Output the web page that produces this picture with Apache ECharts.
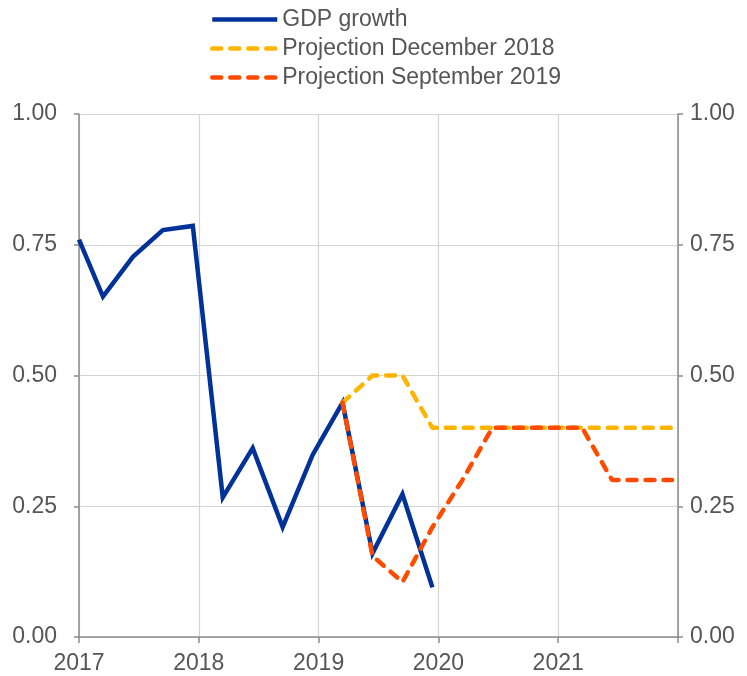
<!DOCTYPE html>
<html>
<head>
<meta charset="utf-8">
<script src="https://cdn.jsdelivr.net/npm/echarts@6/dist/echarts.min.js"></script>
<style>html,body{margin:0;padding:0;background:#fff}#c{width:747px;height:676px}</style>
</head>
<body>
<div id="c"></div>
<script>
// Data (x = decimal year)
var gdpDates = [2017.0, 2017.2, 2017.45, 2017.7, 2017.95, 2018.2, 2018.45, 2018.7, 2018.95, 2019.2, 2019.45, 2019.7, 2019.95];
var gdpValues = [0.76, 0.651, 0.727, 0.778, 0.786, 0.267, 0.361, 0.21, 0.348, 0.448, 0.16, 0.273, 0.095];
var projDates = [2019.2, 2019.45, 2019.7, 2019.95, 2020.2, 2020.45, 2020.7, 2020.95, 2021.2, 2021.45, 2021.7, 2021.95];
var dec2018Values = [0.448, 0.50, 0.50, 0.40, 0.40, 0.40, 0.40, 0.40, 0.40, 0.40, 0.40, 0.40];
var sep2019Values = [0.448, 0.155, 0.105, 0.21, 0.30, 0.40, 0.40, 0.40, 0.40, 0.30, 0.30, 0.30];
var yTicks = [0, 0.25, 0.5, 0.75, 1.0];
var seriesNames = ['GDP growth', 'Projection December 2018', 'Projection September 2019'];

function zip(xs, ys) { return xs.map(function (x, i) { return [x, ys[i]]; }); }

var FONT = '"Liberation Sans", Arial, sans-serif';
var TXT = '#555555';
var AX = '#8c8c8c';
var GRID = '#d4d4d4';
var colors = ['#003299', '#FFB400', '#FF4B00'];
var dash = [9, 9];
var lineTypes = ['solid', dash, dash];

var yAxisCommon = {
  type: 'value', min: yTicks[0], max: yTicks[yTicks.length - 1], interval: 0.25,
  axisLine: { show: true, lineStyle: { color: AX, width: 1.5 } },
  axisTick: { show: true, length: 5, lineStyle: { color: AX, width: 1.5 } },
  axisLabel: { color: TXT, fontSize: 23, fontFamily: FONT, formatter: function (v) { return v.toFixed(2); } }
};

var chart = echarts.init(document.getElementById('c'), null, { renderer: 'canvas' });
chart.setOption({
  animation: false,
  color: colors,
  legend: {
    orient: 'vertical', left: 205, top: 3, itemGap: 6, itemWidth: 65, itemHeight: 23,
    textStyle: { color: TXT, fontSize: 23, fontFamily: FONT },
    data: seriesNames.map(function (n, i) {
      return { name: n, itemStyle: { opacity: 0 },
        lineStyle: { color: colors[i], width: 4.5, type: lineTypes[i], cap: i ? 'round' : 'butt' } };
    })
  },
  grid: { left: 79, right: 69, top: 114, bottom: 39, containLabel: false },
  xAxis: {
    type: 'value', min: 2017, max: 2022, interval: 1,
    axisLine: { show: true, onZero: false, lineStyle: { color: AX, width: 1.5 } },
    axisTick: { show: true, length: 6, lineStyle: { color: AX, width: 1.5 } },
    splitLine: { show: true, lineStyle: { color: GRID, width: 1.2 } },
    axisLabel: { color: TXT, fontSize: 23, fontFamily: FONT, margin: 15,
      formatter: function (v) { return v >= 2022 ? '' : String(v); } }
  },
  yAxis: [
    Object.assign({}, yAxisCommon, { position: 'left', splitLine: { show: true, lineStyle: { color: GRID, width: 1.2 } },
      axisLabel: Object.assign({}, yAxisCommon.axisLabel, { margin: 22 }) }),
    Object.assign({}, yAxisCommon, { position: 'right', splitLine: { show: false },
      axisLabel: Object.assign({}, yAxisCommon.axisLabel, { margin: 12 }) })
  ],
  series: [
    { name: seriesNames[0], type: 'line', data: zip(gdpDates, gdpValues), showSymbol: false, symbol: 'none', z: 2,
      lineStyle: { color: colors[0], width: 4.5, join: 'miter' }, itemStyle: { color: colors[0] } },
    { name: seriesNames[1], type: 'line', data: zip(projDates, dec2018Values), showSymbol: false, symbol: 'none', z: 3,
      lineStyle: { color: colors[1], width: 4.5, type: dash, cap: 'round' }, itemStyle: { color: colors[1] } },
    { name: seriesNames[2], type: 'line', data: zip(projDates, sep2019Values), showSymbol: false, symbol: 'none', z: 4,
      lineStyle: { color: colors[2], width: 4.5, type: dash, cap: 'round' }, itemStyle: { color: colors[2] } }
  ]
});
</script>
</body>
</html>
